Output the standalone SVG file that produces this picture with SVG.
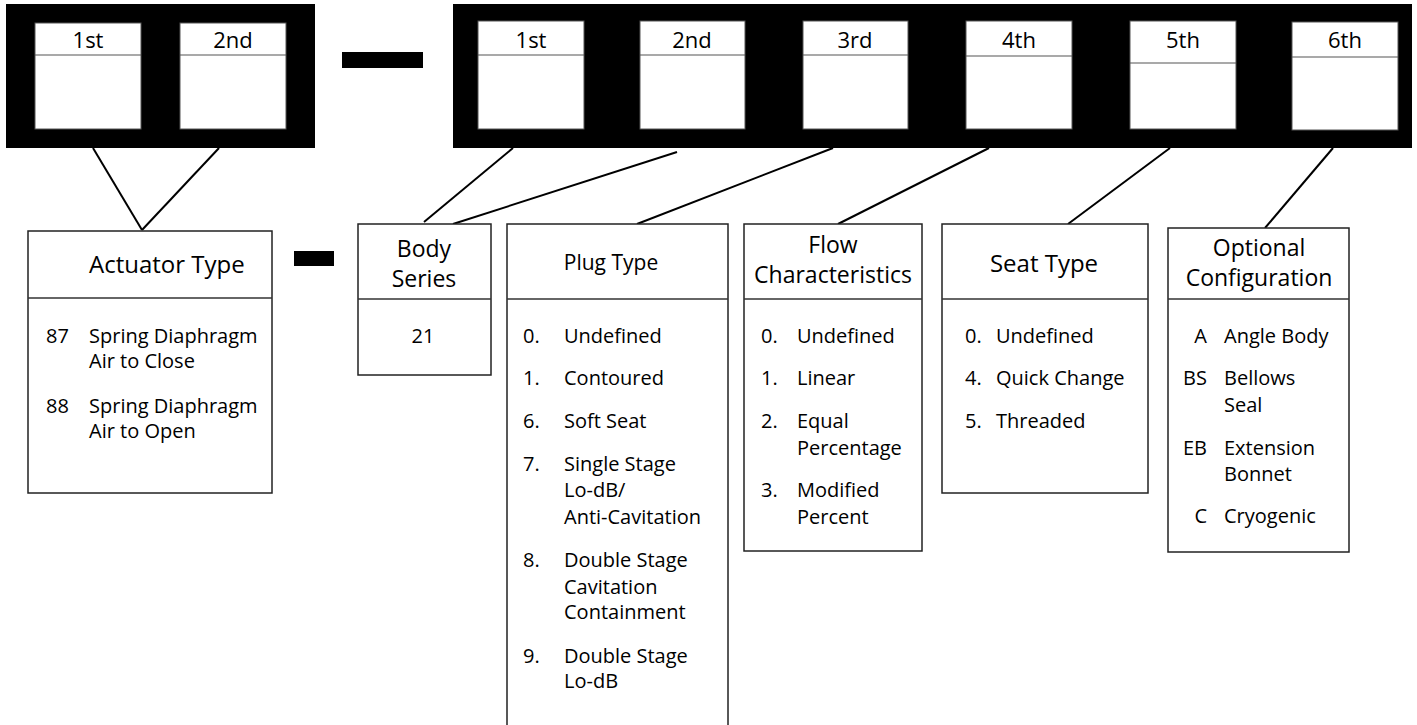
<svg xmlns="http://www.w3.org/2000/svg" width="1417" height="725" viewBox="0 0 1417 725">
<style>
text{font-family:"Open Sans","Noto Sans",sans-serif;fill:#000}
.bar{fill:#000}
.slot{fill:#fff;stroke:#555;stroke-width:1}
.sep{stroke:#555;stroke-width:1.2}
.box{fill:#fff;stroke:#222;stroke-width:1.5}
.div{stroke:#333;stroke-width:1.5}
.lbl{font-size:22px;text-anchor:middle}
.hd{font-size:24px;text-anchor:middle}
.hd2{font-size:23px;text-anchor:middle}
.it{font-size:20px}
.conn line{stroke:#000;stroke-width:2}
</style>
<rect width="1417" height="725" fill="#fff"/>
<g id="code-actuator">
<rect class="bar" x="6" y="4" width="309" height="144"/>
<rect class="slot" x="35" y="23" width="106" height="106"/><line class="sep" x1="35" y1="55" x2="141" y2="55"/><text class="lbl" x="88" y="48">1st</text>
<rect class="slot" x="180" y="23" width="106" height="106"/><line class="sep" x1="180" y1="55" x2="286" y2="55"/><text class="lbl" x="233" y="48">2nd</text>
</g>
<g id="dash-top"><rect class="bar" x="342" y="52" width="81" height="16"/></g>
<g id="code-body">
<rect class="bar" x="453" y="4" width="959" height="144"/>
<rect class="slot" x="478" y="21" width="106" height="108"/><line class="sep" x1="478" y1="55" x2="584" y2="55"/><text class="lbl" x="531" y="48">1st</text>
<rect class="slot" x="640" y="21" width="105" height="108"/><line class="sep" x1="640" y1="55" x2="745" y2="55"/><text class="lbl" x="692" y="48">2nd</text>
<rect class="slot" x="803" y="21" width="105" height="108"/><line class="sep" x1="803" y1="55" x2="908" y2="55"/><text class="lbl" x="855" y="48">3rd</text>
<rect class="slot" x="966" y="21" width="106" height="108"/><line class="sep" x1="966" y1="56" x2="1072" y2="56"/><text class="lbl" x="1019" y="48">4th</text>
<rect class="slot" x="1130" y="21" width="106" height="108"/><line class="sep" x1="1130" y1="63" x2="1236" y2="63"/><text class="lbl" x="1183" y="48">5th</text>
<rect class="slot" x="1292" y="22" width="106" height="108"/><line class="sep" x1="1292" y1="57" x2="1398" y2="57"/><text class="lbl" x="1345" y="48">6th</text>
</g>
<g class="conn" id="connectors">
<line x1="93" y1="148" x2="142" y2="230"/>
<line x1="219" y1="148" x2="142" y2="230"/>
<line x1="513" y1="148" x2="424" y2="222"/>
<line x1="677" y1="152" x2="453" y2="224"/>
<line x1="833" y1="148" x2="637" y2="224"/>
<line x1="989" y1="148" x2="838" y2="224"/>
<line x1="1170" y1="148" x2="1068" y2="224"/>
<line x1="1333" y1="148" x2="1265" y2="228"/>
</g>
<g id="actuator-type">
<rect class="box" x="28" y="231" width="244" height="262"/>
<line class="div" x1="28" y1="298" x2="272" y2="298"/>
<text x="89" y="273" style="font-size:24px">Actuator Type</text>
<text class="it" x="46" y="343">87</text><text class="it" x="89" y="343">Spring Diaphragm</text>
<text class="it" x="89" y="368">Air to Close</text>
<text class="it" x="46" y="413">88</text><text class="it" x="89" y="413">Spring Diaphragm</text>
<text class="it" x="89" y="438">Air to Open</text>
</g>
<g id="dash-mid"><rect class="bar" x="294" y="251" width="40" height="15"/></g>
<g id="body-series">
<rect class="box" x="358" y="224" width="133" height="151"/>
<line class="div" x1="358" y1="299" x2="491" y2="299"/>
<text class="hd2" x="424" y="257">Body</text>
<text class="hd2" x="424" y="287">Series</text>
<text class="it" x="423" y="343" text-anchor="middle">21</text>
</g>
<g id="plug-type">
<rect class="box" x="507" y="224" width="221" height="510"/>
<line class="div" x1="507" y1="299" x2="728" y2="299"/>
<text x="611" y="270" text-anchor="middle" style="font-size:21px">Plug Type</text>
<text class="it" x="523" y="343">0.</text><text class="it" x="564" y="343">Undefined</text>
<text class="it" x="523" y="385">1.</text><text class="it" x="564" y="385">Contoured</text>
<text class="it" x="523" y="428">6.</text><text class="it" x="564" y="428">Soft Seat</text>
<text class="it" x="523" y="471">7.</text><text class="it" x="564" y="471">Single Stage</text>
<text class="it" x="564" y="497">Lo-dB/</text>
<text class="it" x="564" y="524">Anti-Cavitation</text>
<text class="it" x="523" y="567">8.</text><text class="it" x="564" y="567">Double Stage</text>
<text class="it" x="564" y="594">Cavitation</text>
<text class="it" x="564" y="619">Containment</text>
<text class="it" x="523" y="663">9.</text><text class="it" x="564" y="663">Double Stage</text>
<text class="it" x="564" y="688">Lo-dB</text>
</g>
<g id="flow-characteristics">
<rect class="box" x="744" y="224" width="178" height="327"/>
<line class="div" x1="744" y1="299" x2="922" y2="299"/>
<text class="hd2" x="833" y="253">Flow</text>
<text class="hd2" x="833" y="283">Characteristics</text>
<text class="it" x="761" y="343">0.</text><text class="it" x="797" y="343">Undefined</text>
<text class="it" x="761" y="385">1.</text><text class="it" x="797" y="385">Linear</text>
<text class="it" x="761" y="428">2.</text><text class="it" x="797" y="428">Equal</text>
<text class="it" x="797" y="455">Percentage</text>
<text class="it" x="761" y="497">3.</text><text class="it" x="797" y="497">Modified</text>
<text class="it" x="797" y="524">Percent</text>
</g>
<g id="seat-type">
<rect class="box" x="942" y="224" width="206" height="269"/>
<line class="div" x1="942" y1="299" x2="1148" y2="299"/>
<text class="hd" x="1044" y="272">Seat Type</text>
<text class="it" x="965" y="343">0.</text><text class="it" x="996" y="343">Undefined</text>
<text class="it" x="965" y="385">4.</text><text class="it" x="996" y="385">Quick Change</text>
<text class="it" x="965" y="428">5.</text><text class="it" x="996" y="428">Threaded</text>
</g>
<g id="optional-configuration">
<rect class="box" x="1168" y="228" width="181" height="324"/>
<line class="div" x1="1168" y1="299" x2="1349" y2="299"/>
<text class="hd2" x="1259" y="256">Optional</text>
<text class="hd2" x="1259" y="286">Configuration</text>
<text class="it" x="1207" y="343" text-anchor="end">A</text><text class="it" x="1224" y="343">Angle Body</text>
<text class="it" x="1207" y="385" text-anchor="end">BS</text><text class="it" x="1224" y="385">Bellows</text>
<text class="it" x="1224" y="412">Seal</text>
<text class="it" x="1207" y="455" text-anchor="end">EB</text><text class="it" x="1224" y="455">Extension</text>
<text class="it" x="1224" y="481">Bonnet</text>
<text class="it" x="1207" y="523" text-anchor="end">C</text><text class="it" x="1224" y="523">Cryogenic</text>
</g>
</svg>
